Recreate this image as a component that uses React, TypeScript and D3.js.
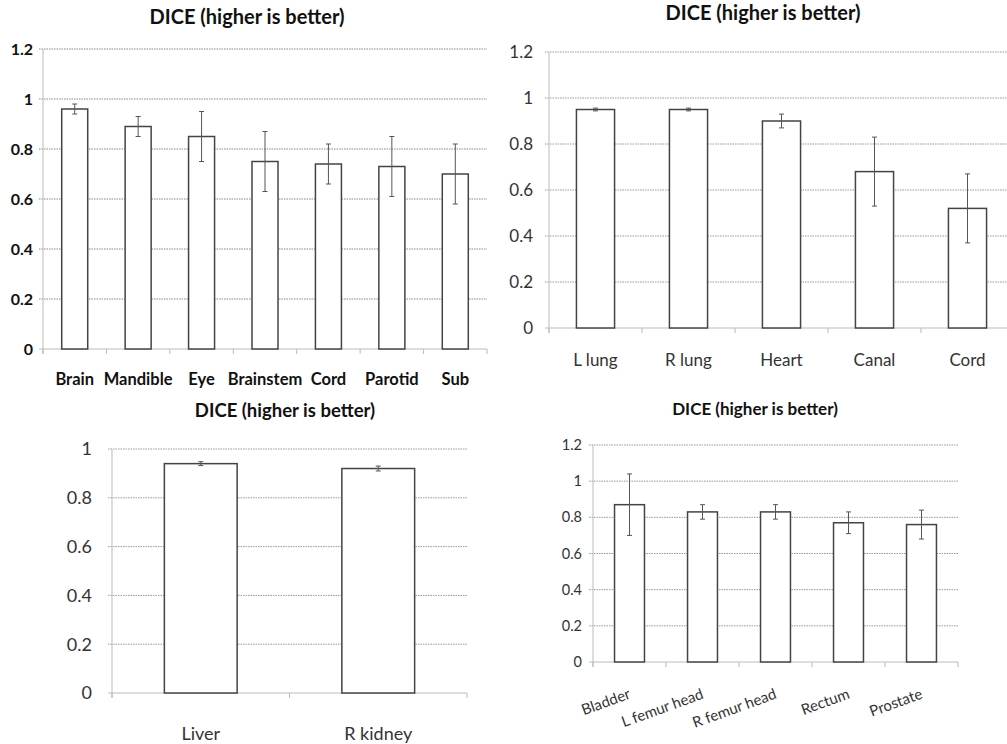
import React, { useEffect, useRef } from 'react';
import * as d3 from 'd3';

// ---- data ----
const headNeckCats = ['Brain', 'Mandible', 'Eye', 'Brainstem', 'Cord', 'Parotid', 'Sub'];
const headNeckDice = [0.96, 0.89, 0.85, 0.75, 0.74, 0.73, 0.70];
const headNeckErr = [0.02, 0.04, 0.10, 0.12, 0.08, 0.12, 0.12];

const thoraxCats = ['L lung', 'R lung', 'Heart', 'Canal', 'Cord'];
const thoraxDice = [0.95, 0.95, 0.90, 0.68, 0.52];
const thoraxErr = [0.006, 0.006, 0.03, 0.15, 0.15];

const abdomenCats = ['Liver', 'R kidney'];
const abdomenDice = [0.94, 0.92];
const abdomenErr = [0.008, 0.01];

const pelvisCats = ['Bladder', 'L femur head', 'R femur head', 'Rectum', 'Prostate'];
const pelvisDice = [0.87, 0.83, 0.83, 0.77, 0.76];
const pelvisErr = [0.17, 0.04, 0.04, 0.06, 0.08];

const ticks12 = [0, 0.2, 0.4, 0.6, 0.8, 1, 1.2];
const ticks10 = [0, 0.2, 0.4, 0.6, 0.8, 1];

const chartTitle = 'DICE (higher is better)';

const FONT = 'Lato, "Open Sans", sans-serif';

type PanelOpts = {
  cats: string[];
  vals: number[];
  errs: number[];
  ticks: number[];
  x0: number; x1: number; yTop: number; yBottom: number;
  titleX: number; titleY: number; titleSize: number;
  tickSize: number; tickBold: boolean; tickColor: string; tickRight: number;
  labelSize: number; labelY: number; labelRotate?: number;
  gridColor: string;
};

function drawPanel(svg: d3.Selection<SVGSVGElement, unknown, null, undefined>, o: PanelOpts) {
  const g = svg.append('g');
  const x = d3.scaleBand().domain(o.cats).range([o.x0, o.x1]).paddingInner(0.59).paddingOuter(0.295);
  const step = x.step();
  const y = d3.scaleLinear().domain([0, o.ticks[o.ticks.length - 1]]).range([o.yBottom, o.yTop]);

  // title
  g.append('text')
    .attr('x', o.titleX).attr('y', o.titleY)
    .attr('text-anchor', 'middle')
    .style('font-family', FONT).style('font-weight', 'bold').style('font-size', o.titleSize + 'px')
    .attr('fill', '#111')
    .text(chartTitle);

  // gridlines + y ticks
  o.ticks.forEach(t => {
    if (t > 0) {
      g.append('line')
        .attr('x1', o.x0 - 4).attr('x2', o.x1)
        .attr('y1', y(t)).attr('y2', y(t))
        .attr('stroke', o.gridColor).attr('stroke-width', 1).attr('stroke-dasharray', '1.5,1');
    } else {
      g.append('line')
        .attr('x1', o.x0 - 4).attr('x2', o.x0)
        .attr('y1', y(t)).attr('y2', y(t))
        .attr('stroke', '#bbb');
    }
    g.append('text')
      .attr('x', o.tickRight).attr('y', y(t)).attr('dy', '0.35em')
      .attr('text-anchor', 'end')
      .style('font-family', FONT).style('font-size', o.tickSize + 'px')
      .style('font-weight', o.tickBold ? 'bold' : 'normal')
      .attr('fill', o.tickColor)
      .text(String(t));
  });

  // axes
  g.append('line').attr('x1', o.x0).attr('x2', o.x0).attr('y1', o.yTop).attr('y2', o.yBottom + 5)
    .attr('stroke', '#bbb');
  g.append('line').attr('x1', o.x0).attr('x2', o.x1).attr('y1', o.yBottom).attr('y2', o.yBottom)
    .attr('stroke', '#bbb');
  for (let i = 0; i <= o.cats.length; i++) {
    const tx = o.x0 + i * step;
    g.append('line').attr('x1', tx).attr('x2', tx).attr('y1', o.yBottom).attr('y2', o.yBottom + 5)
      .attr('stroke', '#bbb');
  }

  // bars
  o.cats.forEach((c, i) => {
    g.append('rect')
      .attr('x', x(c)!).attr('y', y(o.vals[i]))
      .attr('width', x.bandwidth()).attr('height', o.yBottom - y(o.vals[i]))
      .attr('fill', '#fff').attr('stroke', '#444').attr('stroke-width', 1.5);
  });

  // error bars
  o.cats.forEach((c, i) => {
    const cx = x(c)! + x.bandwidth() / 2;
    const hi = y(o.vals[i] + o.errs[i]);
    const lo = y(o.vals[i] - o.errs[i]);
    g.append('line').attr('x1', cx).attr('x2', cx).attr('y1', hi).attr('y2', lo)
      .attr('stroke', '#555').attr('stroke-width', 1);
    [hi, lo].forEach(yy => {
      g.append('line').attr('x1', cx - 2.5).attr('x2', cx + 2.5).attr('y1', yy).attr('y2', yy)
        .attr('stroke', '#555').attr('stroke-width', 1);
    });
  });

  // category labels
  o.cats.forEach(c => {
    const cx = x(c)! + x.bandwidth() / 2;
    const t = g.append('text')
      .style('font-family', FONT).style('font-size', o.labelSize + 'px')
      .style('font-weight', o.tickBold ? 'bold' : 'normal')
      .attr('fill', o.tickColor)
      .text(c);
    if (o.labelRotate) {
      t.attr('text-anchor', 'end')
        .attr('transform', `translate(${cx + 2},${o.labelY}) rotate(${o.labelRotate})`);
    } else {
      t.attr('x', cx).attr('y', o.labelY).attr('text-anchor', 'middle');
    }
  });
}

export default function App() {
  const svgRef = useRef<SVGSVGElement>(null);

  useEffect(() => {
    const svg = d3.select(svgRef.current!);
    svg.selectAll('*').remove();

    drawPanel(svg, {
      cats: headNeckCats, vals: headNeckDice, errs: headNeckErr, ticks: ticks12,
      x0: 43, x1: 487, yTop: 49, yBottom: 349,
      titleX: 247, titleY: 24, titleSize: 20,
      tickSize: 16, tickBold: true, tickColor: '#111', tickRight: 33,
      labelSize: 16.5, labelY: 385, gridColor: '#888',
    });

    drawPanel(svg, {
      cats: thoraxCats, vals: thoraxDice, errs: thoraxErr, ticks: ticks12,
      x0: 549, x1: 1014, yTop: 52, yBottom: 328,
      titleX: 763, titleY: 20, titleSize: 20,
      tickSize: 17, tickBold: false, tickColor: '#333', tickRight: 533,
      labelSize: 17, labelY: 366, gridColor: '#999',
    });

    drawPanel(svg, {
      cats: abdomenCats, vals: abdomenDice, errs: abdomenErr, ticks: ticks10,
      x0: 112, x1: 467, yTop: 449, yBottom: 693,
      titleX: 285, titleY: 417, titleSize: 18.5,
      tickSize: 18, tickBold: false, tickColor: '#333', tickRight: 92,
      labelSize: 18, labelY: 740, gridColor: '#999',
    });

    drawPanel(svg, {
      cats: pelvisCats, vals: pelvisDice, errs: pelvisErr, ticks: ticks12,
      x0: 593, x1: 958, yTop: 445, yBottom: 662,
      titleX: 755, titleY: 415, titleSize: 17,
      tickSize: 14.5, tickBold: false, tickColor: '#333', tickRight: 582,
      labelSize: 15, labelY: 698, labelRotate: -20, gridColor: '#999',
    });
  }, []);

  return (
    <div style={{ position: 'absolute', left: 0, top: 0 }}>
      <svg ref={svgRef} width={1007} height={744} style={{ display: 'block', background: '#fff' }} />
    </div>
  );
}
